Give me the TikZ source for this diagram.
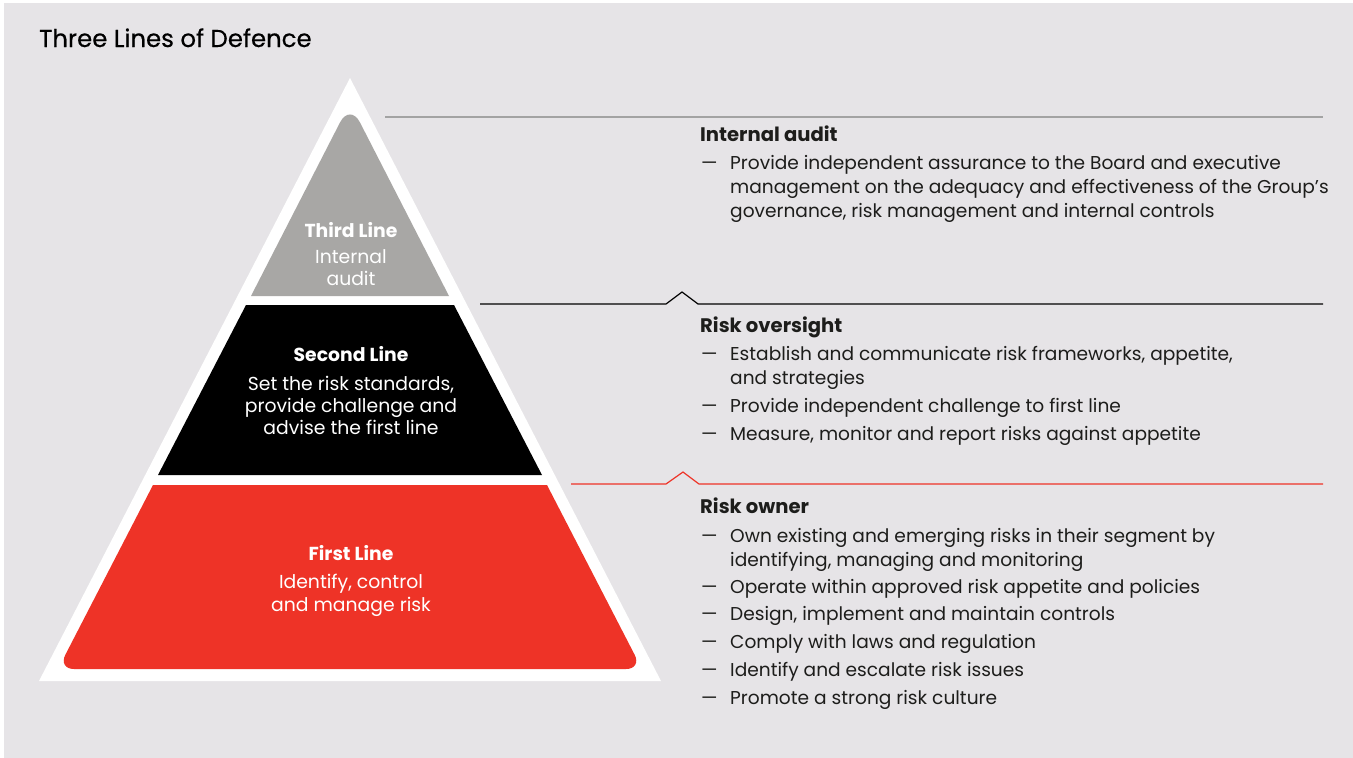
\documentclass[tikz,border=0pt]{standalone}
\usepackage{fontspec}
\setmainfont{Poppins}
\newfontfamily\titlefont[FakeBold=0.5]{Poppins}
\definecolor{bg}{HTML}{E6E4E7}
\definecolor{ink}{HTML}{1D1D1B}
\definecolor{tgray}{HTML}{A8A7A5}
\definecolor{lgray}{HTML}{A3A3A3}
\definecolor{rred}{HTML}{EE3327}
\begin{document}
\begin{tikzpicture}[x=1pt,y=-1pt,
  body/.style={font=\fontsize{18.6}{24}\selectfont, text=ink, inner sep=0pt, anchor=base west, align=left},
  head/.style={font=\fontsize{19.6}{24}\selectfont\bfseries, text=ink, inner sep=0pt, anchor=base west},
  bullet/.style={font=\fontsize{18.6}{24}\selectfont, text=ink, inner sep=0pt, anchor=base west},
  phead/.style={font=\fontsize{18.8}{22}\selectfont\bfseries, text=white, inner sep=0pt, anchor=base},
  pbody/.style={font=\fontsize{18.8}{22}\selectfont, text=white, inner sep=0pt, anchor=base, align=center},
  rule/.style={line width=1.2pt}]
\useasboundingbox (0,0) rectangle (1353,758);
\fill[white] (0,0) rectangle (1353,758);
\fill[bg] (4,3) rectangle (1353,758);

% title
\node[font=\titlefont\fontsize{24.4}{28}\selectfont, text=black, inner sep=0pt, anchor=base west] (title) at (39,47) {Three Lines of Defence};

% pyramid
\fill[white] (350,78) -- (661,681) -- (39,681) -- cycle;
\fill[tgray] (251,296) [rounded corners=22pt] -- (350,103) [sharp corners] -- (449,296) -- cycle;
\fill[black] (246,305) -- (454,305) -- (542,475) -- (158,475) -- cycle;
\fill[rred] (153,485) -- (547,485) [rounded corners=16pt] -- (642,669) -- (58,669) [sharp corners] -- cycle;

% (multi-line nodes: base = baseline of last line)
\node[phead] (t3) at (351,237) {Third Line};
\node[pbody] (b3) at (351,285) {Internal\\audit};
\node[phead] (t2) at (351,361) {Second Line};
\node[pbody] (b2) at (351,434) {Set the risk standards,\\provide challenge and\\advise the first line};
\node[phead] (t1) at (351,560) {First Line};
\node[pbody, font=\fontsize{18.8}{23}\selectfont] (b1) at (351,611) {Identify, control\\and manage risk};

% rules
\coordinate (g1) at (385,117); \coordinate (g2) at (1323,117);
\draw[rule, lgray] (g1) -- (g2);
\coordinate (k1) at (480,304); \coordinate (k2) at (1323,304);
\draw[rule, black] (k1) -- (666,304) -- (682,292) -- (698,304) -- (k2);
\coordinate (r1) at (571,484); \coordinate (r2) at (1323,484);
\draw[rule, rred] (r1) -- (666,484) -- (683,472) -- (699,484) -- (r2);

% Internal audit
\node[head] (h3) at (700,141) {Internal audit};
\node[bullet] (d31) at (701,169) {—};
\node[body] (i31) at (730,217) {Provide independent assurance to the Board and executive\\management on the adequacy and effectiveness of the Group’s\\governance, risk management and internal controls};

% Risk oversight
\node[head] (h2) at (700,332) {Risk oversight};
\node[bullet] (d21) at (701,360) {—};
\node[body] (i21) at (730,384) {Establish and communicate risk frameworks, appetite,\\and strategies};
\node[bullet] (d22) at (701,412) {—};
\node[body] (i22) at (730,412) {Provide independent challenge to first line};
\node[bullet] (d23) at (701,440) {—};
\node[body] (i23) at (730,440) {Measure, monitor and report risks against appetite};

% Risk owner
\node[head] (h1) at (700,513) {Risk owner};
\node[bullet] (d11) at (701,542) {—};
\node[body] (i11) at (730,566) {Own existing and emerging risks in their segment by\\identifying, managing and monitoring};
\node[bullet] (d12) at (701,593) {—};
\node[body] (i12) at (730,593) {Operate within approved risk appetite and policies};
\node[bullet] (d13) at (701,620) {—};
\node[body] (i13) at (730,620) {Design, implement and maintain controls};
\node[bullet] (d14) at (701,648) {—};
\node[body] (i14) at (730,648) {Comply with laws and regulation};
\node[bullet] (d15) at (701,676) {—};
\node[body] (i15) at (730,676) {Identify and escalate risk issues};
\node[bullet] (d16) at (701,704) {—};
\node[body] (i16) at (730,704) {Promote a strong risk culture};
\end{tikzpicture}
\end{document}
